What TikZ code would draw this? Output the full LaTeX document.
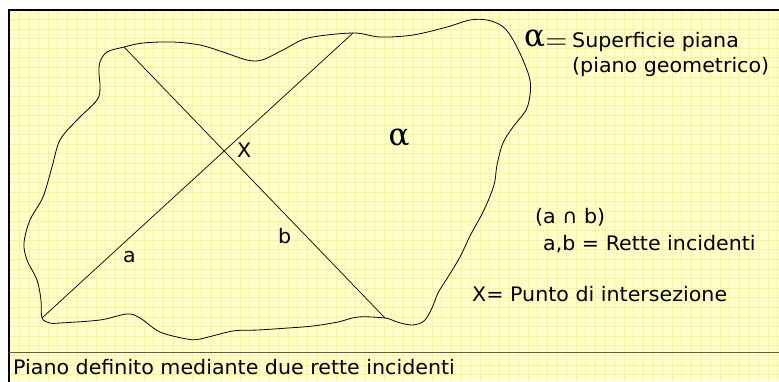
\RequirePackage{fix-cm}
\documentclass[tikz,border=0pt]{standalone}
\usepackage{fontspec}
\setmainfont{DejaVu Sans}[FakeStretch=1.03]
\newfontfamily\greekfont{DejaVu Serif}
\usetikzlibrary{positioning}
\definecolor{paper}{RGB}{255,255,204}
\definecolor{gridyellow}{RGB}{250,244,150}
\definecolor{rulegray}{RGB}{90,90,90}

\begin{document}
\begin{tikzpicture}[
        x=1pt, y=-1pt,
        outline/.style = {draw=black, line width=0.8pt},
        retta/.style = {draw=black, line width=0.7pt},
        txt/.style = {font=\fontsize{20}{23}\selectfont, inner sep=0pt, anchor=base west},
        greek/.style = {font=\greekfont\fontsize{31}{34}\selectfont, inner sep=0pt}
    ]
        \clip (0,0) rectangle (779,381);

        % === Paper with grid ===
        \fill[paper] (9,10) rectangle (779,381);
        \draw[gridyellow, line width=0.4pt, step=9.6pt] (9,10) grid (779,381);
        \draw[black, line width=1.2pt] (779.8,10) -- (9,10) -- (9,382);
        \draw[rulegray, line width=1pt] (9,352) -- (779,352);

        % === Line end points on the surface ===
        \coordinate (a1) at (42,318);
        \coordinate (a2) at (353,33);
        \coordinate (b1) at (124,47);
        \coordinate (b2) at (385,318);

        % === Plane (irregular outline) ===
        \draw[outline] plot[smooth cycle, tension=0.55] coordinates {
            (b1) (143,43) (173,42) (200,45) (223,52) (247,60) (262,60) (283,50) (308,38)
            (a2) (380,37) (413,35) (447,27) (470,20) (487,20) (502,26) (512,38) (523,60)
            (530,80) (530,95) (526,110) (513,127) (503,143) (497,165) (494,185) (484,210)
            (470,236) (460,257) (448,277) (438,293) (432,308) (424,321) (412,325) (397,322)
            (b2) (358,317) (338,322) (313,326) (288,328) (258,330) (233,331) (200,339)
            (187,339) (160,332) (140,318) (127,314) (100,320) (60,323) (50,323)
            (a1) (41,300) (37,280) (27,260) (24,243) (30,220) (43,197) (52,167) (60,140)
            (77,120) (97,100) (100,87) (99,73) (100,62) (107,52)};

        % === Incident lines ===
        \draw[retta] (a1) -- (a2);
        \draw[retta] (b1) -- (b2);

        % === Labels ===
        \node (labA) [txt] at (123,262) {a};
        \node (labB) [txt] at (278,243) {b};
        \node (labX) [txt] at (237,157) {X};
        \node (alphaMid) [greek, anchor=base] at (399,145) {α};

        \node (alphaSym) [greek, anchor=base west] at (524,46) {α};
        \node (eqSign) [inner sep=0pt, font=\fontsize{30}{32}\selectfont, right=0pt of alphaSym.base east, anchor=base west, yshift=-3pt] {$=$};
        \node (defSup) [txt] at (572,47) {Superficie piana};
        \node (defGeo) [txt] at (572,72) {(piano geometrico)};
        \node (defCap) [txt] at (535,223) {(a ∩ b)};
        \node (defInc) [txt] at (543,250) {a,b = Rette incidenti};
        \node (defX) [txt] at (472,301) {X= Punto di intersezione};

        \node (caption) [txt] at (13,374) {Piano definito mediante due rette incidenti};

    \end{tikzpicture}
\end{document}
